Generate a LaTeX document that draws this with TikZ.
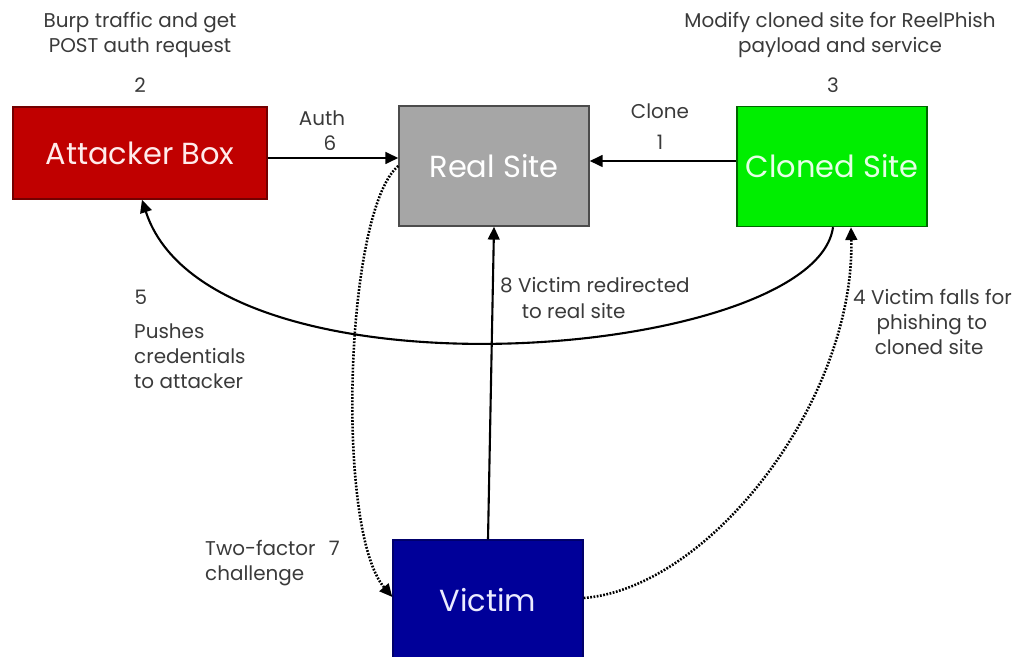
\documentclass[tikz,border=0pt]{standalone}
\usepackage{fontspec}
\setmainfont{Poppins}
\usetikzlibrary{positioning, arrows.meta}

\definecolor{attackred}{HTML}{C00000}
\definecolor{realgray}{HTML}{A6A6A6}
\definecolor{clonegreen}{HTML}{00EE00}
\definecolor{victimblue}{HTML}{000099}
\definecolor{labelgray}{HTML}{3A3A3A}

\begin{document}
\begin{tikzpicture}[
    x=0.03cm, y=-0.03cm,
    box/.style={draw, rectangle, line width=1.2pt, text=white, inner sep=0pt,
        minimum width=5.7cm, minimum height=3.6cm,
        font=\fontsize{26}{30}\selectfont},
    lbl/.style={text=labelgray, inner sep=0pt, align=center,
        font=\fontsize{17}{21.5}\selectfont},
    arr/.style={-{Triangle[length=11pt, width=10pt]}, line width=1.8pt},
    dotarr/.style={-{Triangle[length=11pt, width=10pt]}, line width=2.2pt,
        dash pattern=on 1.5pt off 1.3pt}
]
    \useasboundingbox (0,0) rectangle (1025,657);

    % the four sites
    \node[box, fill=attackred, draw=attackred!60!black, text=red!8,
        minimum width=7.62cm, minimum height=2.76cm] (attacker) at (140,153) {Attacker Box};
    \node[box, fill=realgray, draw=gray!60!black] (real) at (494,166) {Real Site};
    \node[box, fill=clonegreen, draw=green!40!black, text=green!10] (cloned) at (832,166.5) {Cloned Site};
    \node[box, fill=victimblue, draw=victimblue!70!black, text=blue!8] (victim) at (488,600) {Victim};

    % step labels
    \node[lbl] (burp) at (140,35) {Burp traffic and get\\POST auth request};
    \node[lbl] (num2) at (140,85) {2};
    \node[lbl] (auth) at (322,118) {Auth};
    \node[lbl] (num6) at (330,143) {6};
    \node[lbl] (clone) at (660,111) {Clone};
    \node[lbl] (num1) at (660,142) {1};
    \node[lbl] (modify) at (840,35) {Modify cloned site for ReelPhish\\payload and service};
    \node[lbl] (num3) at (833,85) {3};
    \node[lbl] (num5) at (141,297) {5};
    \node[lbl, anchor=west, align=left] (pushes) at (134,356) {Pushes\\credentials\\to attacker};
    \node[lbl, anchor=west, align=left] (redirect) at (500,298) {8 Victim redirected\\\hspace*{6.5mm}to real site};
    \node[lbl, anchor=west, align=left] (phish) at (853,322) {4 Victim falls for\\\hspace*{7mm}phishing to\\\hspace*{6.5mm}cloned site};
    \node[lbl, anchor=west, align=left] (twofactor) at (205,563) {Two-factor\hspace{4mm}7\\challenge};

    % connectors
    \draw[arr] (attacker.east |- 0,158) -- (real.west |- 0,158);
    \draw[arr] (cloned.west |- 0,161) -- (real.east |- 0,161);
    \draw[arr] (cloned.south -| 833,0) .. controls (815,360) and (210,410) .. (attacker.south -| 142,0);
    \draw[arr] (victim.north) -- (real.south);
    \draw[dotarr] (real.west |- 0,166) .. controls (345,210) and (335,530) .. (victim.west |- 0,597);
    \draw[dotarr] (victim.east |- 0,598) .. controls (710,588) and (855,400) .. (cloned.south -| 851,0);
\end{tikzpicture}
\end{document}
